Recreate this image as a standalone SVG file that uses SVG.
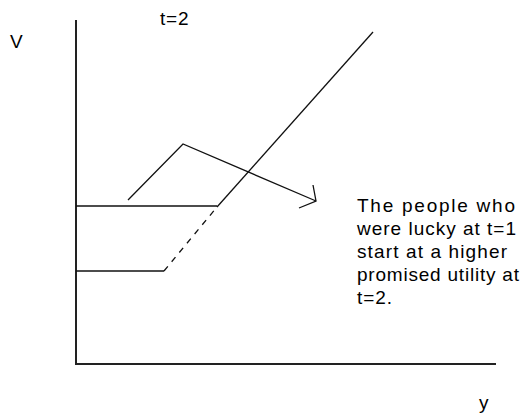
<svg xmlns="http://www.w3.org/2000/svg" width="527" height="417" viewBox="0 0 527 417">
<style>
  text { font-family: "Liberation Sans", Arial, sans-serif; font-size: 19px; fill: #000; }
  .lbl { letter-spacing: 0.8px; }
  .ln { stroke: #111; stroke-width: 1.3; fill: none; }
  .ax { stroke: #222; stroke-width: 2; fill: none; }
</style>
<rect width="527" height="417" fill="#fff"/>
<g id="axes">
  <line class="ax" x1="76" y1="20" x2="76" y2="365"/>
  <line class="ax" x1="75" y1="364" x2="496" y2="364"/>
</g>
<g id="labels">
  <text class="lbl" x="10" y="48">V</text>
  <text class="lbl" x="160" y="25">t=2</text>
  <text class="lbl" x="479" y="409">y</text>
</g>
<g id="connectors">
  <line class="ln" x1="76" y1="206" x2="217" y2="206"/>
  <line class="ln" x1="76" y1="271" x2="164" y2="271"/>
  <line class="ln" x1="164" y1="271" x2="217" y2="207" stroke-dasharray="6 6"/>
  <line class="ln" x1="217" y1="207" x2="373" y2="32"/>
  <polyline class="ln" points="128,200 183,144 316,201"/>
  <polyline class="ln" points="313,185 316,201 299,208"/>
</g>
<g id="note">
  <text x="357" y="212" textLength="158" lengthAdjust="spacing">The people who</text>
  <text x="357" y="235" textLength="159" lengthAdjust="spacing">were lucky at t=1</text>
  <text x="357" y="258" textLength="150" lengthAdjust="spacing">start at a higher</text>
  <text x="357" y="281" textLength="162" lengthAdjust="spacing">promised utility at</text>
  <text x="357" y="304" textLength="35" lengthAdjust="spacing">t=2.</text>
</g>
</svg>
